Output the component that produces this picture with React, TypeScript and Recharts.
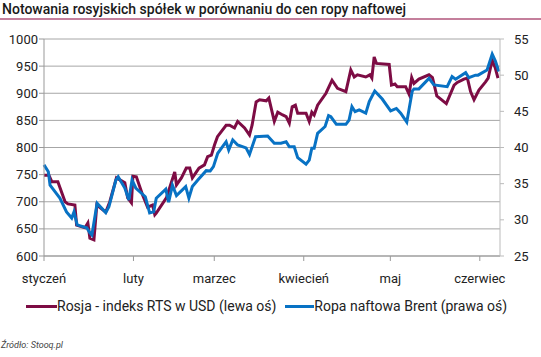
import React from 'react';
import { LineChart, Line, XAxis, YAxis, CartesianGrid } from 'recharts';

// dni od 1 stycznia
const rtsDays = [
  0, 1.7, 2.7, 4.8, 7.3, 8.3, 10.7, 11.3, 14.2, 15.2, 15.9, 17.3, 18.3, 21.4, 22.8, 25.1, 28, 29, 30.3, 30.8,
  32, 34.2, 35.9, 37.6, 38.4, 38.9, 42.4, 44.1, 45.3, 45.9, 47.6, 49.3, 50.5, 51.4, 53.7, 55.6, 56.7, 58, 59.1, 60.1,
  63.1, 64.3, 66, 67.1, 69.5, 71.2, 72.1, 73.5, 74.7, 77, 77.9, 79.8, 81, 82.7, 83.9, 85, 86, 87.1, 87.9, 90.8,
  91.9, 92.8, 93.6, 94.8, 97.7, 99.8, 101.7, 104.6, 106.3, 107.5, 108.6, 111.5, 112.9, 113.6, 114.4, 115.2, 119.6, 120.4, 121.6, 122.4,
  125.3, 126.5, 127.4, 128.2, 129.9, 133.4, 134.6, 136.1, 139.4, 142.1, 143.2, 145.5, 146.7, 147.8, 149, 150.7, 153, 153.9, 155.3, 156.4,
  157.3,
];
const rtsValues = [
  749, 749, 737, 737, 700, 696, 694, 657, 652, 661, 633, 630, 694, 681, 700, 744, 735, 707, 698, 747,
  746, 712, 690, 694, 676, 679, 707, 735, 755, 731, 744, 762, 762, 744, 762, 768, 783, 786, 805, 820,
  841, 841, 836, 848, 836, 823, 841, 884, 888, 886, 891, 848, 865, 860, 857, 845, 875, 878, 863, 863,
  848, 865, 860, 878, 900, 924, 909, 903, 943, 930, 934, 930, 934, 928, 967, 955, 953, 915, 917, 912,
  912, 898, 929, 918, 926, 934, 929, 895, 881, 915, 920, 926, 928, 903, 888, 906, 921, 928, 961, 946,
  928,
];

const brentDays = [
  0, 1.5, 2.1, 3.8, 5.5, 7.8, 9.6, 10.4, 11.5, 14.8, 15.9, 16.6, 18.4, 21.4, 22.5, 24.9, 25.7, 28, 29.4, 30.5,
  31.8, 35.1, 36.6, 38, 38.9, 42.2, 43.2, 44.5, 45.9, 49.1, 50.2, 51.4, 53.3, 56.2, 57.6, 58.7, 60.2, 63.1, 64, 65.4,
  67.1, 70, 71.2, 73.3, 77.5, 79.8, 82.1, 83.9, 85, 86.7, 87.9, 90.8, 91.9, 92.8, 93.6, 94.8, 97.4, 98.6, 99.4, 101.3,
  104.6, 105.7, 106.7, 107.8, 109.2, 111.5, 112.7, 114.6, 117.2, 120.1, 122.1, 123.6, 125.7, 127.6, 128.2, 129.9, 133.4, 135.1, 139.7, 141.4,
  142.6, 146.1, 147.2, 149.5, 150.4, 153.5, 155.3, 156.4, 157.6,
];
const brentValues = [
  37.6, 36.65, 34.8, 33.9, 33.0, 31.1, 30.25, 31.1, 29.3, 28.9, 28.2, 27.9, 32.3, 31.0, 31.8, 35.5, 35.95, 34.4, 32.75, 35.5,
  34.4, 33.2, 30.95, 31.1, 33.0, 34.25, 32.45, 34.8, 33.35, 34.6, 33.0, 34.6, 35.5, 36.8, 36.75, 37.35, 39.2, 40.8, 39.65, 41.05,
  40.35, 39.95, 39.05, 41.5, 41.6, 40.6, 40.6, 40.8, 40.1, 40.1, 38.6, 37.7, 38.25, 39.9, 39.9, 41.95, 42.9, 44.4, 44.25, 43.2,
  43.2, 43.8, 45.65, 44.95, 45.2, 44.75, 46.35, 47.8, 46.7, 45.05, 45.4, 44.75, 43.5, 47.8, 48.1, 48.1, 49.55, 48.65, 48.4, 49.8,
  49.45, 50.35, 49.65, 50.0, 50.0, 50.7, 52.9, 51.95, 50.5,
];

const monthStarts = [0, 31, 59, 90, 120, 151];
const monthNames = ['styczeń', 'luty', 'marzec', 'kwiecień', 'maj', 'czerwiec'];
const leftTicks = [600, 650, 700, 750, 800, 850, 900, 950, 1000];
const rightTicks = [25, 30, 35, 40, 45, 50, 55];

const rtsName = 'Rosja - indeks RTS w USD (lewa oś)';
const brentName = 'Ropa naftowa Brent (prawa oś)';

const rtsData = rtsDays.map((d, i) => ({ day: d, rts: rtsValues[i] }));
const brentData = brentDays.map((d, i) => ({ day: d, brent: brentValues[i] }));

const RED = '#7d0c44';
const BLUE = '#0872c4';
const FONT = 'Roboto, "DejaVu Sans", sans-serif';
const tickStyle = { fontSize: 13, fill: '#222', fontFamily: FONT };

const App = () => {
  return (
    <div style={{ position: 'absolute', left: 0, top: 0, width: 541, height: 357, background: '#fff', fontFamily: FONT }}>
      {/* tytuł */}
      <div style={{ position: 'absolute', left: 2, top: 1, fontSize: 14, fontWeight: 500, color: '#1a1a1a', whiteSpace: 'nowrap' }}>
        Notowania rosyjskich spółek w porównaniu do cen ropy naftowej
      </div>
      <div style={{ position: 'absolute', left: 0, top: 18, width: 541, height: 2, background: '#c47f9c' }} />

      <LineChart width={541} height={357} margin={{ top: 39, right: 0, bottom: 71, left: 0 }}>
        <CartesianGrid yAxisId="left" vertical={false} stroke="#a6a6a6" />
        <XAxis
          dataKey="day"
          type="number"
          domain={[0, 158]}
          ticks={monthStarts}
          tickFormatter={(v: number) => monthNames[monthStarts.indexOf(v)]}
          height={30}
          tickSize={5}
          tickMargin={13}
          stroke="#999"
          tick={tickStyle}
          allowDuplicatedCategory={false}
        />
        <YAxis
          yAxisId="left"
          domain={[600, 1000]}
          ticks={leftTicks}
          width={44}
          tickSize={5}
          tickMargin={1}
          stroke="#999"
          tick={tickStyle}
        />
        <YAxis
          yAxisId="right"
          orientation="right"
          domain={[25, 55]}
          ticks={rightTicks}
          width={41}
          tickSize={4}
          tickMargin={10}
          stroke="#bbb"
          tick={tickStyle}
        />
        <Line
          yAxisId="left"
          data={rtsData}
          dataKey="rts"
          stroke={RED}
          strokeWidth={3}
          dot={false}
          isAnimationActive={false}
        />
        <Line
          yAxisId="right"
          data={brentData}
          dataKey="brent"
          stroke={BLUE}
          strokeWidth={3}
          dot={false}
          isAnimationActive={false}
        />
      </LineChart>

      {/* legenda */}
      <div style={{ position: 'absolute', left: 26, top: 298, display: 'flex', alignItems: 'center', fontSize: 14, color: '#222', whiteSpace: 'nowrap' }}>
        <span style={{ display: 'inline-block', width: 31, height: 3, background: RED }} />
        <span style={{ marginRight: 9 }}>{rtsName}</span>
        <span style={{ display: 'inline-block', width: 29, height: 3, background: BLUE }} />
        <span>{brentName}</span>
      </div>

      <div style={{ position: 'absolute', left: 1, top: 340, fontSize: 9, fontStyle: 'italic', color: '#444' }}>
        Źródło: Stooq.pl
      </div>
    </div>
  );
};

export default App;
